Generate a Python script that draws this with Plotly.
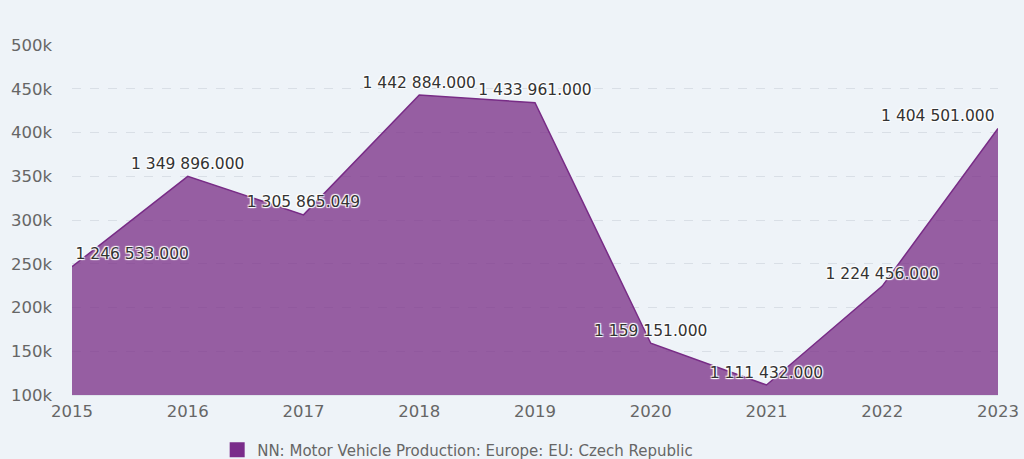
import plotly.graph_objects as go

years = [2015, 2016, 2017, 2018, 2019, 2020, 2021, 2022, 2023]
values = [1246533.0, 1349896.0, 1305865.049, 1442884.0, 1433961.0,
          1159151.0, 1111432.0, 1224456.0, 1404501.0]
series_name = "NN: Motor Vehicle Production: Europe: EU: Czech Republic"
tick_vals = [1100000, 1150000, 1200000, 1250000, 1300000, 1350000, 1400000, 1450000, 1500000]
tick_text = ["100k", "150k", "200k", "250k", "300k", "350k", "400k", "450k", "500k"]

labels = [f"{v:,.3f}".replace(",", " ") for v in values]
positions = ["top center"] * len(values)
positions[0] = "top right"
positions[-1] = "top left"

line_color = "rgb(120,44,134)"
fill_color = "rgba(120,44,134,0.75)"
bg = "#eef3f8"
font_family = "DejaVu Sans, Verdana, sans-serif"

fig = go.Figure()
fig.add_trace(go.Scatter(
    x=years, y=values, name=series_name,
    mode="lines+markers+text",
    line=dict(color=line_color, width=1.5),
    marker=dict(size=4, opacity=0, color=line_color),
    fill="tozeroy", fillcolor=fill_color,
    text=labels, textposition=positions,
    textfont=dict(family=font_family, size=15.5, color="#333333",
                  shadow="1px 1px 1px #ffffff, -1px -1px 1px #ffffff, 1px -1px 1px #ffffff, -1px 1px 1px #ffffff"),
    hoverinfo="skip",
    cliponaxis=False,
    showlegend=False,
))
# legend-only entry with a square symbol
fig.add_trace(go.Scatter(
    x=[None], y=[None], name=series_name, mode="markers",
    marker=dict(symbol="square", size=15, color="rgb(122,44,138)"),
    showlegend=True, hoverinfo="skip",
))

fig.update_layout(
    width=1024, height=459,
    paper_bgcolor=bg, plot_bgcolor=bg,
    margin=dict(l=72, r=26, t=45, b=64, autoexpand=False),
    font=dict(family=font_family, color="#666666"),
    xaxis=dict(
        range=[2015, 2023], tickvals=years, ticktext=[str(y) for y in years],
        showgrid=False, zeroline=False, showline=True, linecolor="#dfe5ec", linewidth=1,
        tickfont=dict(size=16.5, color="#666666"), ticks="", fixedrange=True,
        ticklabelstandoff=1,
    ),
    yaxis=dict(
        range=[1100000, 1500000], tickvals=tick_vals, ticktext=tick_text,
        showgrid=True, gridcolor="#d9dfe6", griddash="dash", gridwidth=1,
        zeroline=False, showline=False,
        tickfont=dict(size=16.5, color="#666666"), ticks="", ticklabelstandoff=19,
        fixedrange=True,
    ),
    legend=dict(
        orientation="h", x=0.4165, xanchor="center", y=-0.157, yanchor="middle",
        font=dict(size=15, color="#666666"), itemwidth=30,
        bgcolor="rgba(0,0,0,0)",
    ),
    hovermode=False,
)

fig.write_html(
    "out.html",
    config={"displayModeBar": False},
    post_script="document.body.style.margin='0';document.body.style.overflow='hidden';",
)
